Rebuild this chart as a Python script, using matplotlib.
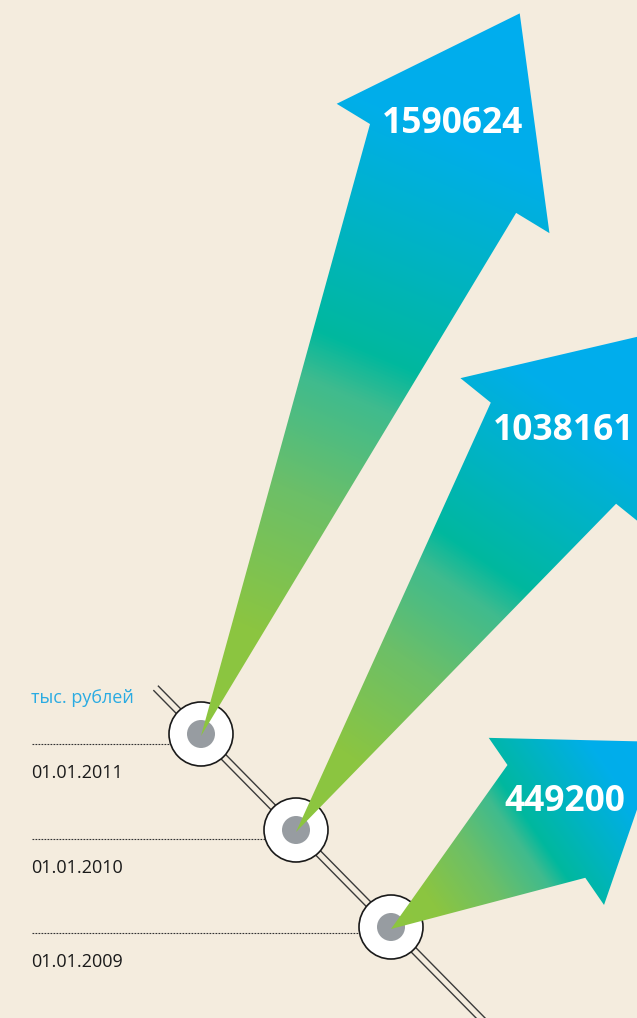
import numpy as np
import matplotlib.pyplot as plt
from matplotlib.colors import LinearSegmentedColormap
from matplotlib.patches import Polygon, Circle

# data
dates = ['01.01.2009', '01.01.2010', '01.01.2011']
values = [449200, 1038161, 1590624]
unit = 'тыс. рублей'

# arrow layout, one per date (pixels, degrees)
shaft_ang = [34.7, 55.8, 66.9]
shaft_len = [189, 458, 617]
head_ang = [55.4, 38.9, 31.3]
head_half = [68.5, 80.5, 85.5]
barb = [33, 39, 39]
point_ang = [34.9, 48.0, 63.7]
head_len = [139, 165, 173]
label_xy = [(565, 811), (564, 440), (453, 133)]

bg = '#f4ecde'
W, H = 637, 1018
fig = plt.figure(figsize=(W / 100, H / 100), dpi=100)
fig.patch.set_facecolor(bg)
ax = fig.add_axes([0, 0, 1, 1])
ax.set_xlim(0, W)
ax.set_ylim(H, 0)
ax.set_facecolor(bg)
ax.axis('off')

cmap = LinearSegmentedColormap.from_list('arr', [
    (0.0, '#8dc63f'), (0.15, '#8bc541'), (0.33, '#6cbf68'),
    (0.47, '#3fbb8e'), (0.53, '#00b89e'), (0.68, '#00b3c6'),
    (0.82, '#00aeea'), (1.0, '#00adef')])

# positions of the three stations along the diagonal
cx = np.array([391, 296, 201], float)
cy = np.array([927, 830, 734], float)
dash_y = cy + np.array([6, 9, 10])

# double diagonal line
d = np.array([cx[0] - cx[2], cy[0] - cy[2]])
d = d / np.hypot(*d)
nrm = np.array([-d[1], d[0]])
for s in (-3.2, 3.2):
    p0 = np.array([cx[2], cy[2]]) - 64 * d + s * nrm
    p1 = np.array([cx[0], cy[0]]) + 140 * d + s * nrm
    ax.plot([p0[0], p1[0]], [p0[1], p1[1]], color='#3a3a3a', lw=1.0, zorder=1)

for i in range(3):
    ax.plot([32, cx[i]], [dash_y[i], dash_y[i]], color='#333333', lw=0.8,
            dashes=(1.6, 1.1), zorder=1)
    ax.text(31, dash_y[i] + 34, dates[i], fontsize=13, family='Open Sans',
            color='#1a1a1a', va='baseline', ha='left')
    ax.add_patch(Circle((cx[i], cy[i]), 32, facecolor='white',
                        edgecolor='#1a1a1a', lw=1.2, zorder=3))
    ax.add_patch(Circle((cx[i], cy[i]), 14, facecolor='#979ca1',
                        edgecolor='none', zorder=4))

ax.text(31, 703, unit, fontsize=13, family='Open Sans', color='#2aabe2',
        va='baseline', ha='left')

for i in range(3):
    tip = np.array([cx[i], cy[i] + 2])
    a = np.radians(shaft_ang[i])
    sd = np.array([np.cos(a), -np.sin(a)])
    mid = tip + shaft_len[i] * sd
    h = np.radians(head_ang[i])
    hd = np.array([np.cos(h), np.sin(h)])
    lc = mid - head_half[i] * hd
    rc = mid + head_half[i] * hd
    lb = lc - barb[i] * hd
    rb = rc + barb[i] * hd
    pa = np.radians(point_ang[i])
    pt = mid + head_len[i] * np.array([np.cos(pa), -np.sin(pa)])
    verts = np.array([tip, lc, lb, pt, rb, rc])
    poly = Polygon(verts, closed=True, facecolor='none', edgecolor='none')
    ax.add_patch(poly)

    # gradient along the shaft, clipped to the arrow outline
    x0, y0 = verts.min(axis=0) - 2
    x1, y1 = verts.max(axis=0) + 2
    xs = np.arange(x0, x1, 0.5)
    ys = np.arange(y0, y1, 0.5)
    X, Y = np.meshgrid(xs, ys)
    total = np.dot(pt - tip, sd)
    t = ((X - tip[0]) * sd[0] + (Y - tip[1]) * sd[1]) / total
    img = cmap(np.clip(t, 0, 1))
    im = ax.imshow(img, extent=(x0, x1, y1, y0), origin='upper',
                   interpolation='bilinear', zorder=5)
    im.set_clip_path(poly)

    ax.text(label_xy[i][0], label_xy[i][1], f'{values[i]}',
            fontsize=25.5, family='Open Sans', weight='bold', color='white',
            ha='center', va='baseline', zorder=6)

fig.savefig('out.png', dpi=100, facecolor=bg)
